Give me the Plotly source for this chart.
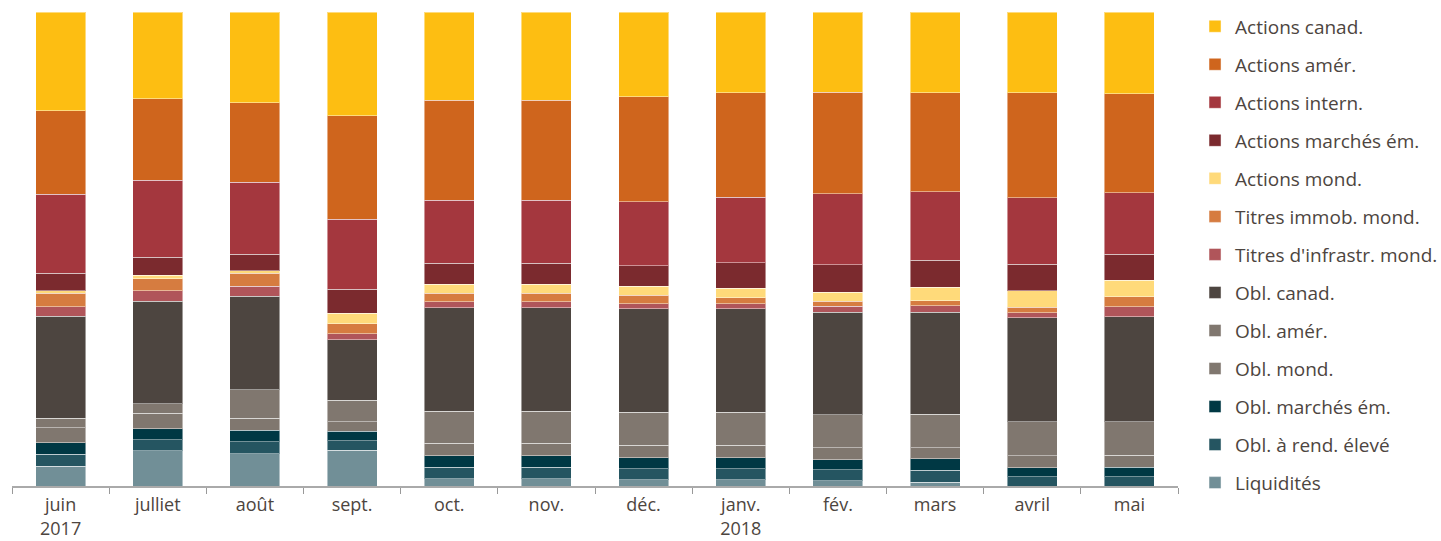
import plotly.graph_objects as go

months = ["juin<br>2017", "julliet", "août", "sept.", "oct.", "nov.", "déc.",
          "janv.<br>2018", "fév.", "mars", "avril", "mai"]

# values in % (bottom of stack first)
liquidites      = [4.2, 7.4, 6.8, 7.6, 1.5, 1.5, 1.3, 1.3, 1.1, 0.8, 0.0, 0.0]
obl_rend_eleve  = [2.5, 2.3, 2.5, 2.0, 2.5, 2.5, 2.3, 2.3, 2.3, 2.5, 2.0, 2.0]
obl_march_em    = [2.4, 2.4, 2.5, 2.0, 2.4, 2.4, 2.4, 2.4, 2.2, 2.4, 1.9, 2.0]
obl_mond        = [3.2, 3.2, 2.5, 2.0, 2.6, 2.6, 2.6, 2.6, 2.5, 2.4, 2.5, 2.5]
obl_amer        = [2.0, 2.0, 6.0, 4.5, 6.8, 6.8, 7.0, 7.0, 7.0, 7.0, 7.2, 7.1]
obl_canad       = [21.5, 21.6, 19.7, 12.8, 21.8, 21.8, 21.8, 21.8, 21.6, 21.6, 21.9, 22.1]
titres_infra    = [2.0, 2.3, 2.1, 1.3, 1.3, 1.3, 1.1, 1.1, 1.3, 1.3, 1.1, 2.1]
titres_immob    = [2.8, 2.5, 2.8, 2.1, 1.8, 1.8, 1.7, 1.3, 1.1, 1.1, 1.2, 2.1]
actions_mond    = [0.5, 0.7, 0.5, 2.2, 1.9, 1.9, 1.9, 2.0, 1.9, 2.8, 3.4, 3.5]
actions_march_em= [3.7, 3.8, 3.5, 5.1, 4.4, 4.4, 4.4, 5.3, 5.8, 5.7, 5.6, 5.5]
actions_intern  = [16.7, 16.2, 15.2, 14.8, 13.3, 13.3, 13.5, 13.9, 15.0, 14.5, 14.1, 13.0]
actions_amer    = [17.6, 17.2, 16.8, 21.9, 21.1, 21.1, 22.1, 22.1, 21.4, 20.9, 22.2, 20.9]
actions_canad   = [20.8, 18.3, 19.1, 21.9, 18.6, 18.6, 17.9, 17.0, 17.0, 17.0, 17.0, 17.2]

series = [
    ("Liquidités", liquidites, "#718f97"),
    ("Obl. à rend. élevé", obl_rend_eleve, "#255561"),
    ("Obl. marchés ém.", obl_march_em, "#003844"),
    ("Obl. mond.", obl_mond, "#80776f"),
    ("Obl. amér.", obl_amer, "#80776f"),
    ("Obl. canad.", obl_canad, "#4d4540"),
    ("Titres d'infrastr. mond.", titres_infra, "#b0555a"),
    ("Titres immob. mond.", titres_immob, "#d67c40"),
    ("Actions mond.", actions_mond, "#ffda7a"),
    ("Actions marchés ém.", actions_march_em, "#7b2a2e"),
    ("Actions intern.", actions_intern, "#a4373e"),
    ("Actions amér.", actions_amer, "#cf651d"),
    ("Actions canad.", actions_canad, "#fdbe12"),
]

TEXT = "#4d4540"
FONT = "Open Sans"
TICK_SIZE = 18
LEG_SIZE = 19

fig = go.Figure()
for i, (name, vals, col) in enumerate(series):
    fig.add_trace(go.Bar(
        x=months, y=vals, name=name, legendgroup=f"g{i}", legendrank=1000 - i,
        marker=dict(color=col, line=dict(color="rgba(255,255,255,0.45)", width=1)),
    ))

fig.update_layout(
    barmode="stack",
    barnorm="percent",
    bargap=0.485,
    width=1441, height=541,
    margin=dict(l=12, r=263, t=12, b=55, autoexpand=False),
    paper_bgcolor="white", plot_bgcolor="white",
    font=dict(family=FONT, color=TEXT, size=TICK_SIZE),
    showlegend=True,
    legend=dict(
        x=1.0146, xanchor="left", y=1.0097, yanchor="top",
        traceorder="grouped", tracegroupgap=10.33,
        font=dict(family=FONT, size=LEG_SIZE, color=TEXT),
        itemwidth=30, maxheight=1,
    ),
    xaxis=dict(
        type="category", tickson="boundaries", ticks="outside", ticklen=6,
        tickcolor="#999999", showline=True, linecolor="#aaaaaa", linewidth=1.5,
        showgrid=False, tickfont=dict(family=FONT, size=TICK_SIZE, color=TEXT),
        ticklabelstandoff=2, automargin=False,
    ),
    xaxis2=dict(
        type="category", overlaying="x", side="bottom", anchor="y",
        categoryarray=months, categoryorder="array", range=[-0.5, len(months) - 0.5],
        tickson="boundaries", ticks="inside", ticklen=6, tickcolor="#999999",
        showticklabels=False, showgrid=False, showline=False,
        tickvals=months, automargin=False,
    ),
    yaxis=dict(range=[0, 100], visible=False, showgrid=False),
)

fig.write_html("out.html")
